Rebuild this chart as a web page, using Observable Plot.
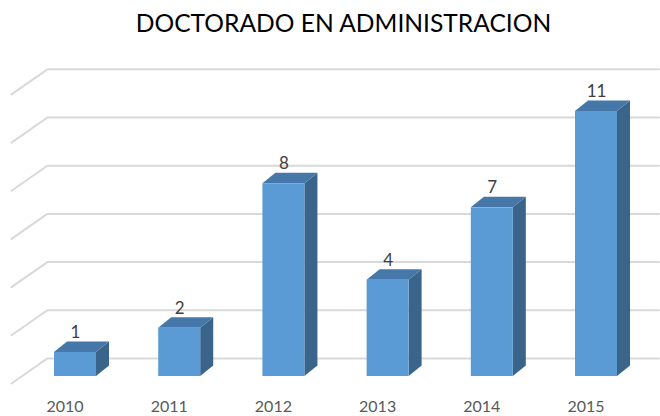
<!DOCTYPE html>
<html><head><meta charset="utf-8">
<script src="https://cdn.jsdelivr.net/npm/d3@7"></script>
<script src="https://cdn.jsdelivr.net/npm/@observablehq/plot@0.6"></script>
<style>
html,body{margin:0;padding:0;background:#fff;overflow:hidden}
#title{height:44px;text-align:center;font:24.6px/46px Lato,sans-serif;color:#000;padding-left:27px;box-sizing:border-box;width:660px;white-space:nowrap}
svg{display:block}
</style></head><body>
<div id="title">DOCTORADO EN ADMINISTRACION</div>
<script>
const years = ["2010","2011","2012","2013","2014","2015"];
const values = [1,2,8,4,7,11];
const gridValues = [0,2,4,6,8,10,12];

const hw = 0.2015, dx = 0.125, dy = 0.436;          // bar half width and depth, in scale units
const wallX = -0.27, wallEnd = 5.6, wallDy = 0.75, frontX = -0.614, frontDy = -0.29;

const idx = years.map((_, i) => i);
const side = idx.flatMap(i => [
  {k:i, x:i+hw,    y1:0,  y2:values[i]},
  {k:i, x:i+hw+dx, y1:dy, y2:values[i]+dy}
]);
const top_ = idx.flatMap(i => [
  {k:i, y:values[i],    x1:i-hw,    x2:i+hw},
  {k:i, y:values[i]+dy, x1:i-hw+dx, x2:i+hw+dx}
]);
const grid = gridValues.flatMap(v => [
  {k:v, x:frontX,  y:v+frontDy},
  {k:v, x:wallX,   y:v+wallDy},
  {k:v, x:wallEnd, y:v+wallDy}
]);

const chart = Plot.plot({
  width:660, height:372,
  marginTop:0, marginRight:0, marginBottom:30, marginLeft:0,
  style:{background:"#fff", overflow:"visible"},
  x:{type:"linear", domain:[0,5], range:[75,596]},
  y:{type:"linear", domain:[0,11], range:[332,67], axis:null},
  marks:[
    Plot.line(grid,{x:"x",y:"y",z:"k",stroke:"#d9d9d9",strokeWidth:2,curve:"linear"}),
    Plot.areaY(side,{x:"x",y1:"y1",y2:"y2",z:"k",fill:"#3a6489",curve:"linear"}),
    Plot.areaX(top_,{y:"y",x1:"x1",x2:"x2",z:"k",fill:"#4577a8",curve:"linear"}),
    Plot.rectY(idx,{x1:i=>i-hw,x2:i=>i+hw,y1:0,y2:i=>values[i],fill:"#5b9bd5"}),
    Plot.text(idx,{x:i=>i,y:i=>values[i],text:i=>String(values[i]),dy:-20,dx:0,fontSize:17,fill:"#404040",fontFamily:"Lato, sans-serif"}),
    Plot.axisX({ticks:idx,tickFormat:i=>years[i],tickSize:0,tickPadding:14,dx:-10.5,fontSize:16,fill:"#595959",fontFamily:"Lato, sans-serif",label:null,anchor:"bottom"})
  ]
});
document.body.appendChild(chart);
</script>
</body></html>
